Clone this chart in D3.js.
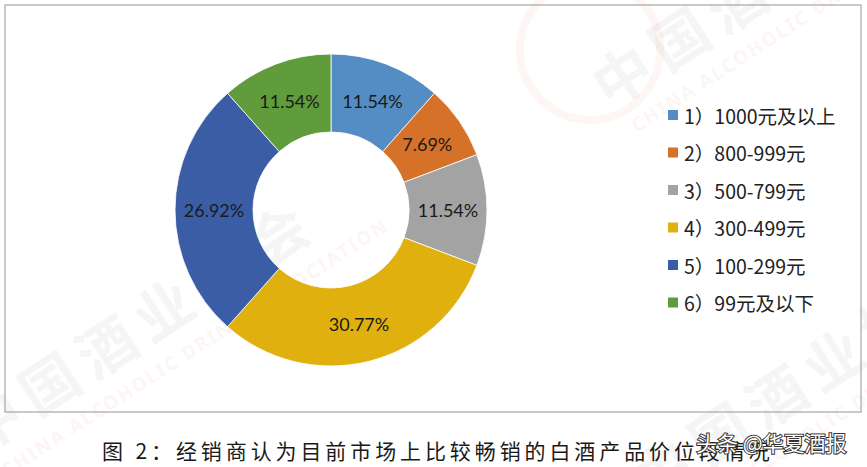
<!DOCTYPE html>
<html>
<head>
<meta charset="utf-8">
<script src="https://cdn.jsdelivr.net/npm/d3@7"></script>
<style>
  html, body { margin: 0; padding: 0; background: #fff; }
  svg { display: block; }
</style>
</head>
<body>
<svg id="chart" width="867" height="467"></svg>
<script>
const categories = ["1）1000元及以上", "2）800-999元", "3）500-799元", "4）300-499元", "5）100-299元", "6）99元及以下"];
const values = [11.54, 7.69, 11.54, 30.77, 26.92, 11.54];
const colors = ["#548CC4", "#D6712A", "#A3A3A3", "#DFB00E", "#3A5DA6", "#609B3C"];
const caption = "图 2：经销商认为目前市场上比较畅销的白酒产品价位段情况";
const credit = "头条 @华夏酒报";

const svg = d3.select("#chart");

// watermarks (faint)
function watermark(x, y) {
  const g = svg.append("g").attr("transform", `translate(${x},${y}) rotate(-33)`);
  g.append("text").text("中国酒业协会")
    .attr("font-family", "'Noto Sans CJK SC'").attr("font-weight", 700)
    .attr("font-size", 58).attr("fill", "#000").attr("opacity", 0.035)
    .attr("letter-spacing", 10);
  g.append("text").text("CHINA ALCOHOLIC DRINKS ASSOCIATION")
    .attr("y", 34).attr("x", 10)
    .attr("font-family", "'Noto Sans'").attr("font-weight", 700)
    .attr("font-size", 19).attr("fill", "#d33").attr("opacity", 0.045)
    .attr("letter-spacing", 2);
}
watermark(-20, 455);
watermark(610, 110);
watermark(650, 505);
svg.append("circle").attr("cx", 590).attr("cy", 50).attr("r", 70)
  .attr("fill", "none").attr("stroke", "#e33").attr("stroke-width", 8).attr("opacity", 0.05);

// frame
svg.append("rect").attr("x", 5).attr("y", 5).attr("width", 856).attr("height", 407)
  .attr("fill", "none").attr("stroke", "#a6a6a6").attr("stroke-width", 1.2);

// donut
const cx = 331, cy = 210, rOuter = 156, rInner = 78;
const pie = d3.pie().sort(null).value(d => d.v);
const data = categories.map((c, i) => ({ c, v: values[i], col: colors[i] }));
const arcs = pie(data);
const arc = d3.arc().innerRadius(rInner).outerRadius(rOuter);
const labelArc = d3.arc().innerRadius((rInner + rOuter) / 2).outerRadius((rInner + rOuter) / 2);

const g = svg.append("g").attr("transform", `translate(${cx},${cy})`);
g.selectAll("path").data(arcs).enter().append("path")
  .attr("d", arc).attr("fill", d => d.data.col)
  .attr("stroke", "#fff").attr("stroke-width", 0.8);

g.selectAll("text.lbl").data(arcs).enter().append("text")
  .attr("class", "lbl")
  .attr("transform", d => `translate(${labelArc.centroid(d)})`)
  .attr("text-anchor", "middle").attr("dominant-baseline", "central")
  .attr("font-family", "Lato, 'Noto Sans'").attr("font-size", 18)
  .attr("fill", "#1a1a1a")
  .text(d => d.data.v.toFixed(2) + "%");

// legend
const legendY = d3.scalePoint().domain(categories).range([115, 302.5]);
const lg = svg.append("g");
lg.selectAll("rect").data(data).enter().append("rect")
  .attr("x", 668).attr("y", d => legendY(d.c) - 5)
  .attr("width", 10).attr("height", 10).attr("fill", d => d.col);
lg.selectAll("text").data(data).enter().append("text")
  .attr("x", 684).attr("y", d => legendY(d.c))
  .attr("dominant-baseline", "central")
  .attr("font-family", "'Noto Sans CJK SC'").attr("font-size", 19.5)
  .attr("fill", "#222")
  .text(d => d.c);

// caption
svg.append("text").attr("x", 102).attr("y", 459)
  .attr("font-family", "'Noto Sans CJK SC'").attr("font-size", 21)
  .attr("letter-spacing", 3.9).attr("fill", "#1a1a1a")
  .text(caption);

// credit overlay
svg.append("text").attr("x", 696).attr("y", 451)
  .attr("font-family", "'Noto Sans CJK SC'").attr("font-size", 21)
  .attr("fill", "#fff").attr("stroke", "#333").attr("stroke-width", 2)
  .attr("paint-order", "stroke")
  .text(credit);
</script>
</body>
</html>
